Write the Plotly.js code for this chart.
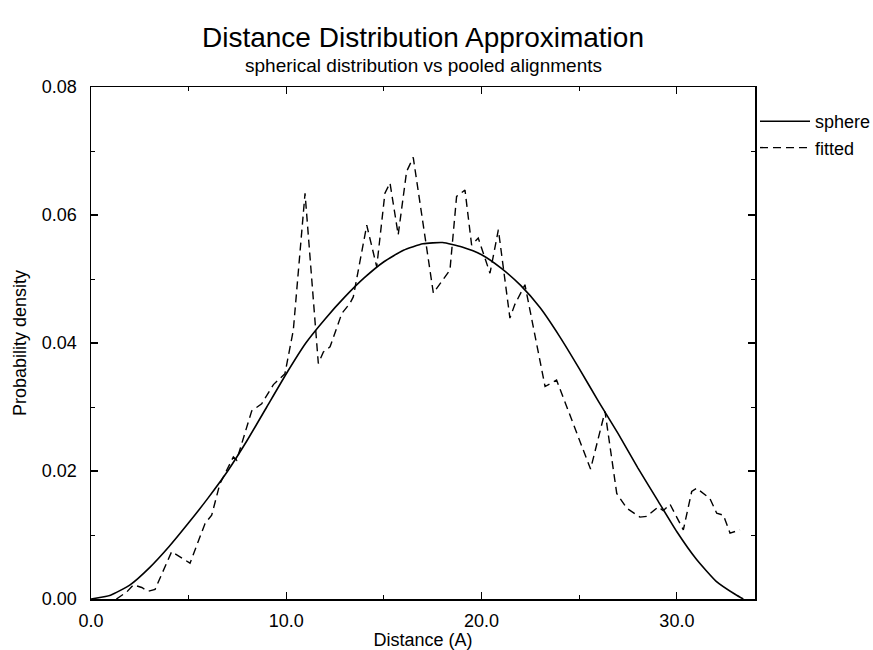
<!DOCTYPE html>
<html>
<head>
<meta charset="utf-8">
<script src="https://cdn.plot.ly/plotly-3.0.1.min.js"></script>
<style>html,body{margin:0;padding:0;background:#fff;}#chart{width:873px;height:650px;}</style>
</head>
<body>
<div id="chart"></div>
<script>
// Sphere (theoretical) distribution
const sphereX = [0, 1, 2, 3, 4, 5, 6, 7, 8, 9, 10, 11, 12, 13, 14, 15, 16, 17, 18, 19, 20, 21, 22, 23, 24, 25, 26, 27, 28, 29, 30, 31, 32, 33, 33.4];
const sphereY = [0, 0.0006, 0.0022, 0.0049, 0.0082, 0.0119, 0.0158, 0.0200, 0.0248, 0.0300, 0.0352, 0.0400, 0.0438, 0.0472, 0.0502, 0.0527, 0.0545, 0.0555, 0.0557, 0.0550, 0.0538, 0.0517, 0.0490, 0.0455, 0.0410, 0.0360, 0.0308, 0.0258, 0.0205, 0.0155, 0.0105, 0.0062, 0.0028, 0.0007, 0];

// Fitted (pooled alignments) distribution
const fittedX = [1.3, 1.83, 2.17, 2.6, 2.93, 3.28, 4.13, 5.07, 5.84, 6.18, 6.6, 7.29, 7.46, 7.71, 8.23, 8.74, 9.34, 9.93, 10.36, 10.96, 11.64, 11.9, 12.24, 12.84, 13.26, 13.43, 14.12, 14.63, 15.05, 15.31, 15.73, 16.16, 16.5, 17.53, 17.8, 18.38, 18.72, 19.15, 19.49, 19.83, 20.43, 20.86, 21.45, 21.7, 22.22, 23.25, 23.84, 25.58, 26.32, 26.92, 27.43, 28.11, 28.45, 29.05, 29.3, 29.65, 30.33, 30.76, 31.01, 31.69, 32.04, 32.38, 32.72, 33.23];
const fittedY = [0, 0.0011, 0.0022, 0.0018, 0.0012, 0.0015, 0.0074, 0.0056, 0.0118, 0.0131, 0.0180, 0.0222, 0.0217, 0.0243, 0.0294, 0.0305, 0.0335, 0.0352, 0.0420, 0.0634, 0.0368, 0.0386, 0.0394, 0.0446, 0.0462, 0.0472, 0.0584, 0.0519, 0.0634, 0.0650, 0.0569, 0.0668, 0.0690, 0.0478, 0.0490, 0.0514, 0.0629, 0.0639, 0.0553, 0.0564, 0.0509, 0.0577, 0.0439, 0.0460, 0.0491, 0.0332, 0.0342, 0.0203, 0.0293, 0.0165, 0.0142, 0.0128, 0.0129, 0.0144, 0.0138, 0.0148, 0.0108, 0.0168, 0.0173, 0.0157, 0.0134, 0.0131, 0.0103, 0.0108];

const xTickVals = [0, 10, 20, 30];
const xTickText = ['0.0', '10.0', '20.0', '30.0'];
const yTickVals = [0, 0.02, 0.04, 0.06, 0.08];
const yTickText = ['0.00', '0.02', '0.04', '0.06', '0.08'];

const FONT = 'Liberation Sans, Arial, Helvetica, sans-serif';

const traces = [
  {x: sphereX, y: sphereY, name: 'sphere', type: 'scatter', mode: 'lines',
   line: {color: '#000', width: 1.6, shape: 'spline', smoothing: 0.5}},
  {x: fittedX, y: fittedY, name: 'fitted', type: 'scatter', mode: 'lines',
   line: {color: '#000', width: 1.4, dash: '8px,5px'}}
];

const axisCommon = {
  showgrid: false, zeroline: false, showline: true, linecolor: '#000', linewidth: 1.5,
  ticks: 'inside', ticklen: 7, tickwidth: 1.2, tickcolor: '#000', mirror: 'ticks',
  tickfont: {family: FONT, size: 18, color: '#000'}
};

const layout = {
  width: 873, height: 650,
  margin: {l: 91, r: 118, t: 87, b: 51, pad: 0, autoexpand: false},
  paper_bgcolor: '#fff', plot_bgcolor: '#fff',
  font: {family: FONT, color: '#000'},
  title: {text: 'Distance Distribution Approximation', font: {family: FONT, size: 28, color: '#000'},
          xref: 'paper', x: 0.5, xanchor: 'center', yref: 'container', y: 1 - 37/650, yanchor: 'middle'},
  annotations: [{text: 'spherical distribution vs pooled alignments', xref: 'paper', yref: 'paper',
                 x: 0.5, y: 1 + 22/512, xanchor: 'center', yanchor: 'middle', showarrow: false,
                 font: {family: FONT, size: 19, color: '#000'}}],
  xaxis: Object.assign({}, axisCommon, {
    range: [0, 34], tickvals: xTickVals, ticktext: xTickText, ticklabelstandoff: 5,
    minor: {tickvals: [5, 15, 25], ticks: 'inside', ticklen: 4, tickcolor: '#000', tickwidth: 1},
    title: {text: 'Distance (A)', font: {family: FONT, size: 18, color: '#000'}, standoff: 2}
  }),
  yaxis: Object.assign({}, axisCommon, {
    range: [0, 0.08], tickvals: yTickVals, ticktext: yTickText, ticklabelstandoff: 9,
    minor: {tickvals: [0.01, 0.03, 0.05, 0.07], ticks: 'inside', ticklen: 4, tickcolor: '#000', tickwidth: 1},
    title: {text: 'Probability density', font: {family: FONT, size: 18, color: '#000'}, standoff: 10}
  }),
  showlegend: true,
  legend: {x: 1.0, xanchor: 'left', y: 1 - 16/512, yanchor: 'top', bgcolor: 'rgba(0,0,0,0)',
           borderwidth: 0, font: {family: FONT, size: 18, color: '#000'}, itemwidth: 50, tracegroupgap: 0}
};

Plotly.newPlot('chart', traces, layout, {displayModeBar: false, staticPlot: true});
</script>
</body>
</html>
